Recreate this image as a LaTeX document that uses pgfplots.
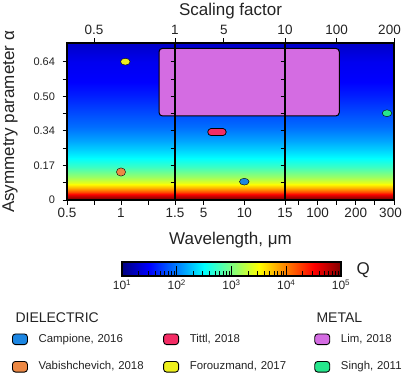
\documentclass[border=0pt]{standalone}
\usepackage{fontspec}
\setmainfont{Liberation Sans}
\usepackage{pgfplots}
\usepackage{pgfplotstable}
\pgfplotsset{compat=1.18}

\definecolor{txt}{RGB}{35,35,35}
\definecolor{campione}{RGB}{28,134,226}
\definecolor{vabish}{RGB}{236,136,68}
\definecolor{tittl}{RGB}{243,44,100}
\definecolor{forouz}{RGB}{238,240,28}
\definecolor{lim}{RGB}{212,108,226}
\definecolor{singh}{RGB}{38,230,140}

% background map: y position on the alpha axis -> log10(Q)
\pgfplotstableread{
x y m
0 0.00 5.00
1 0.00 5.00
0 0.05 4.90
1 0.05 4.90
0 0.14 4.60
1 0.14 4.60
0 0.23 4.20
1 0.23 4.20
0 0.35 3.80
1 0.35 3.80
0 0.49 3.40
1 0.49 3.40
0 0.66 3.10
1 0.66 3.10
0 0.95 2.73
1 0.95 2.73
0 1.24 2.47
1 1.24 2.47
0 1.45 2.32
1 1.45 2.32
0 1.73 2.13
1 1.73 2.13
0 2.10 1.93
1 2.10 1.93
0 2.70 1.73
1 2.70 1.73
0 3.00 1.62
1 3.00 1.62
0 3.40 1.50
1 3.40 1.50
0 4.00 1.44
1 4.00 1.44
0 4.54 1.28
1 4.54 1.28
}\qmap

% colour bar
\pgfplotstableread{
q r m
10 0 1
31.62 0 1.5
100 0 2
316.2 0 2.5
1000 0 3
3162 0 3.5
10000 0 4
31620 0 4.5
100000 0 5
10 1 1
31.62 1 1.5
100 1 2
316.2 1 2.5
1000 1 3
3162 1 3.5
10000 1 4
31620 1 4.5
100000 1 5
}\qbar

\pgfdeclareplotmark{ell}{%
  \pgfpathellipse{\pgfpointorigin}{\pgfqpoint{4.8pt}{0pt}}{\pgfqpoint{0pt}{3.4pt}}%
  \pgfusepathqfillstroke}
\pgfdeclareplotmark{circ}{%
  \pgfpathellipse{\pgfpointorigin}{\pgfqpoint{4.6pt}{0pt}}{\pgfqpoint{0pt}{4.1pt}}%
  \pgfusepathqfillstroke}

\pgfplotsset{
  panel/.style={
    scale only axis, height=157pt, ymin=0, ymax=4.54,
    anchor=south west, axis on top,
    axis line style={line width=1.1pt, black},
    tick style={line width=0.9pt, black},
    tick align=outside, major tick length=4.5pt, minor tick length=4.5pt,
    xtick pos=left, ytick pos=left,
    ytick={0,1,2,3,4}, minor ytick={0.5,1.5,2.5,3.5},
    yticklabels={},
    xticklabel style={font=\fontsize{13.5}{16}\selectfont, text=txt},
    yticklabel style={font=\fontsize{11}{13}\selectfont, text=txt, xshift=-4pt},
  },
  toppanel/.style={
    scale only axis, height=157pt, ymin=0, ymax=4.54, anchor=south west,
    axis x line*=top, axis y line=none,
    axis line style={line width=1.1pt, black},
    tick style={line width=0.9pt, black},
    tick align=outside, major tick length=4.5pt,
    xticklabel style={font=\fontsize{13.5}{16}\selectfont, text=txt},
  },
  dot/.style={only marks, mark=#1, mark options={draw=black, line width=0.9pt}},
}

\begin{document}
\begin{tikzpicture}
\useasboundingbox (0,0) rectangle (403pt,375pt);

% Q background over the three panels
\begin{axis}[scale only axis, width=327pt, height=157pt, at={(67pt,175pt)},
  anchor=south west, hide axis, xmin=0, xmax=1, ymin=0, ymax=4.54,
  colormap/jet, point meta min=1, point meta max=5]
\addplot[surf, shader=interp, mesh/cols=2, point meta=\thisrow{m}]
  table[x=x, y=y] {\qmap};
\end{axis}

% panel 1: 0.5 - 1.5 um
\begin{axis}[panel, width=108pt, at={(67pt,175pt)},
  xmin=0.5, xmax=1.5,
  xtick={0.5,1,1.5}, xticklabels={0.5,1,1.5}, minor xtick={0.75,1.25},
  yticklabels={0,0.17,0.34,0.50,0.64}]
\addplot[fill=lim, draw=black, line width=1pt, rounded corners=3.5pt]
  coordinates {(1.352,2.43) (3,2.43) (3,4.385) (1.352,4.385)} -- cycle;
\addplot[dot=ell, mark options={fill=forouz}] coordinates {(1.04,4.0)};
\addplot[dot=circ, mark options={fill=vabish}] coordinates {(1.0,0.81)};
\end{axis}
\begin{axis}[toppanel, width=108pt, at={(67pt,175pt)}, xmin=0.5, xmax=1.5,
  xtick={0.75,1.5}, xticklabels={0.5,1}]
\end{axis}

% panel 2: 1.5 - 15 um
\begin{axis}[panel, width=110pt, at={(175pt,175pt)},
  xmin=1.5, xmax=15,
  xtick={5,10,15}, xticklabels={5,10,15}]
\addplot[fill=lim, draw=black, line width=1pt, rounded corners=3.5pt]
  coordinates {(0,2.43) (30,2.43) (30,4.385) (0,4.385)} -- cycle;
\addplot[line width=7.7pt, line cap=round, black] coordinates {(5.94,1.96) (7.36,1.96)};
\addplot[line width=5.9pt, line cap=round, tittl] coordinates {(5.94,1.96) (7.36,1.96)};
\addplot[dot=ell, mark options={fill=campione}] coordinates {(10,0.53)};
\end{axis}
\begin{axis}[toppanel, width=110pt, at={(175pt,175pt)}, xmin=1.5, xmax=15,
  xtick={7.5,15}, xticklabels={5,10}]
\end{axis}

% panel 3: 15 - 300 um
\begin{axis}[panel, width=109pt, at={(285pt,175pt)},
  xmin=15, xmax=300,
  xtick={100,200,300}, xticklabels={100,200,\hspace*{-7pt}300}, minor xtick={50,150,250}]
\addplot[fill=lim, draw=black, line width=1pt, rounded corners=3.5pt]
  coordinates {(0,2.43) (157,2.43) (157,4.385) (0,4.385)} -- cycle;
\addplot[dot=ell, mark options={fill=singh}] coordinates {(281.7,2.51)};
\end{axis}
\begin{axis}[toppanel, width=109pt, at={(285pt,175pt)}, xmin=15, xmax=300,
  xtick={150,300}, xticklabels={100,\hspace*{-9pt}200}]
\end{axis}

\node[anchor=base, font=\fontsize{17}{20}\selectfont, text=txt] at (230.5pt,130.5pt) {Wavelength, μm};
\node[anchor=base, font=\fontsize{17}{20}\selectfont, text=txt] at (230.5pt,359.3pt) {Scaling factor};
\node[anchor=base, rotate=90, font=\fontsize{17}{20}\selectfont, text=txt] at (14pt,253pt) {Asymmetry parameter α};

% colour bar
\begin{axis}[scale only axis, width=219pt, height=14pt, at={(122pt,99pt)},
  anchor=south west, xmode=log, xmin=10, xmax=100000, ymin=0, ymax=1,
  ytick=\empty, axis on top, axis line style={line width=1.2pt, black},
  xtick pos=left, tick align=inside,
  xtick={10,100,1000,10000,100000},
  xticklabels={10\textsuperscript{1},10\textsuperscript{2},10\textsuperscript{3},10\textsuperscript{4},10\textsuperscript{5}},
  minor xtick={20,30,40,50,60,70,80,90,200,300,400,500,600,700,800,900,
    2000,3000,4000,5000,6000,7000,8000,9000,20000,30000,40000,50000,60000,70000,80000,90000},
  major tick length=10pt, minor tick length=5pt,
  tick style={line width=0.8pt, black},
  xticklabel style={font=\fontsize{12}{14}\selectfont, text=txt},
  colormap/jet, point meta min=1, point meta max=5]
\addplot[surf, shader=interp, mesh/cols=9, point meta=\thisrow{m}]
  table[x=q, y=r] {\qbar};
\end{axis}
\node[anchor=base west, font=\fontsize{17}{20}\selectfont, text=txt] at (353pt,100.5pt) {Q};

% legend
\node[anchor=base west, font=\fontsize{14}{16}\selectfont, text=txt] at (12pt,53pt) {DIELECTRIC};
\node[anchor=base west, font=\fontsize{14}{16}\selectfont, text=txt] at (313pt,53pt) {METAL};
\begin{axis}[hide axis, scale only axis, width=100pt, height=100pt,
  at={(0pt,0pt)}, anchor=south west, xmin=0, xmax=1, ymin=0, ymax=1,
  legend columns=3, legend cell align=left,
  legend image code/.code={%
    \draw[#1, line width=0.9pt, rounded corners=3pt] (0pt,-5.3pt) rectangle (15pt,5.3pt);
    \path (26pt,0pt);},
  legend style={draw=none, fill=none, at={(0.12,0.415)}, anchor=north west,
    inner sep=0pt, outer sep=0pt, row sep=16pt, column sep=0pt,
    nodes={inner sep=0pt, text width=124.5pt, text height=8pt, text depth=2.3pt,
      font=\fontsize{11.4}{13}\selectfont, text=txt}}]
\addlegendimage{fill=campione, draw=black}\addlegendentry{Campione, 2016}
\addlegendimage{fill=tittl, draw=black}\addlegendentry{Tittl, 2018}
\addlegendimage{fill=lim, draw=black}\addlegendentry{Lim, 2018}
\addlegendimage{fill=vabish, draw=black}\addlegendentry{Vabishchevich, 2018}
\addlegendimage{fill=forouz, draw=black}\addlegendentry{Forouzmand, 2017}
\addlegendimage{fill=singh, draw=black}\addlegendentry{Singh, 2011}
\end{axis}
\end{tikzpicture}
\end{document}
